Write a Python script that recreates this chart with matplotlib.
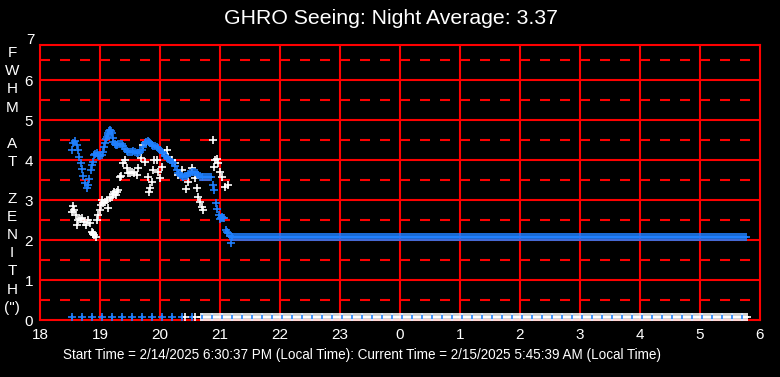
import matplotlib.pyplot as plt
import numpy as np

plt.rcParams['font.family'] = ['Liberation Sans', 'DejaVu Sans']
plt.rcParams['lines.scale_dashes'] = False

# seeing (FWHM at zenith, arcsec) vs local time in hours (24+ = after midnight)
blue_t = [18.528, 18.555, 18.583, 18.612, 18.638, 18.655, 18.678, 18.695, 18.722, 18.75,
          18.778, 18.795, 18.822, 18.845, 18.862, 18.878, 18.9, 18.92, 18.945, 18.965,
          18.988, 19.008, 19.028, 19.045, 19.065, 19.083, 19.1, 19.112, 19.125, 19.138,
          19.152, 19.167, 19.18, 19.195, 19.21, 19.222, 19.245, 19.267, 19.285, 19.305,
          19.33, 19.362, 19.39, 19.417, 19.445, 19.472, 19.5, 19.528, 19.555, 19.583,
          19.61, 19.638, 19.665, 19.695, 19.72, 19.75, 19.775, 19.795, 19.815, 19.833,
          19.86, 19.888, 19.915, 19.945, 19.97, 20.0, 20.028, 20.055, 20.085, 20.112,
          20.14, 20.167, 20.195, 20.222, 20.25, 20.278, 20.305, 20.333, 20.36, 20.388,
          20.415, 20.445, 20.472, 20.5, 20.528, 20.555, 20.583, 20.612, 20.64, 20.667,
          20.695, 20.722, 20.75, 20.778, 20.81, 20.85, 20.888, 20.905, 20.928, 20.955,
          20.98, 21.0, 21.017, 21.033, 21.05, 21.067, 21.095, 21.118, 21.138, 21.16,
          21.178, 21.195]
blue_v = [4.25, 4.42, 4.48, 4.37, 4.25, 4.08, 3.92, 3.77, 3.60, 3.42,
          3.29, 3.37, 3.52, 3.75, 3.87, 3.96, 4.12, 4.16, 4.17, 4.13,
          4.10, 4.10, 4.12, 4.21, 4.32, 4.42, 4.52, 4.58, 4.63, 4.68,
          4.72, 4.75, 4.72, 4.67, 4.56, 4.46, 4.40, 4.37, 4.38, 4.40,
          4.41, 4.40, 4.34, 4.27, 4.22, 4.19, 4.20, 4.21, 4.22, 4.21,
          4.18, 4.17, 4.20, 4.25, 4.33, 4.42, 4.46, 4.48, 4.45, 4.42,
          4.38, 4.35, 4.34, 4.33, 4.29, 4.25, 4.21, 4.17, 4.10, 4.04,
          4.02, 4.00, 3.96, 3.92, 3.84, 3.75, 3.68, 3.62, 3.59, 3.58,
          3.59, 3.60, 3.64, 3.67, 3.69, 3.70, 3.69, 3.68, 3.63, 3.58,
          3.57, 3.57, 3.58, 3.57, 3.57, 3.57, 3.37, 3.25, 2.92, 2.77,
          2.62, 2.52, 2.55, 2.57, 2.55, 2.54, 2.25, 2.19, 2.17, 2.10,
          1.92, 2.08]

# flat part of the blue series, sampled every 2 minutes
flat_t = np.arange(21.2, 29.78, 1 / 30)
flat_v = [2.07] * len(flat_t)

white_t = [18.528, 18.545, 18.567, 18.6, 18.622, 18.638, 18.667, 18.695, 18.733, 18.767,
           18.805, 18.833, 18.862, 18.875, 18.888, 18.905, 18.928, 18.955, 18.972, 19.0,
           19.012, 19.028, 19.055, 19.083, 19.112, 19.138, 19.167, 19.195, 19.222, 19.24,
           19.267, 19.285, 19.305, 19.333, 19.35, 19.388, 19.417, 19.445, 19.472, 19.5,
           19.528, 19.572, 19.612, 19.638, 19.683, 19.722, 19.75, 19.795, 19.817, 19.833,
           19.862, 19.888, 19.905, 19.945, 19.972, 20.0, 20.028, 20.072, 20.112, 20.138,
           20.195, 20.25, 20.305, 20.362, 20.433, 20.472, 20.528, 20.583, 20.612, 20.638,
           20.667, 20.695, 20.722, 20.888, 20.905, 20.917, 20.945, 20.972, 21.0, 21.028,
           21.083, 21.138]
white_v = [2.71, 2.85, 2.75, 2.62, 2.37, 2.50, 2.52, 2.54, 2.46, 2.37,
           2.50, 2.42, 2.21, 2.18, 2.15, 2.12, 2.08, 2.50, 2.62, 2.75,
           2.87, 3.00, 2.92, 2.96, 3.00, 2.79, 3.04, 3.08, 3.15, 3.20,
           3.12, 3.20, 3.25, 3.58, 3.60, 3.92, 4.00, 3.79, 3.67, 3.67,
           3.71, 3.67, 3.62, 3.79, 4.04, 4.37, 3.96, 3.58, 3.21, 3.29,
           3.46, 3.75, 4.00, 4.00, 3.71, 3.54, 3.83, 4.17, 4.25, 4.08,
           4.00, 3.92, 3.62, 3.75, 3.27, 3.46, 3.79, 3.54, 3.29, 3.07,
           2.96, 2.83, 2.75, 4.50, 3.83, 4.00, 4.02, 3.92, 3.71, 3.58,
           3.33, 3.37]

# zero readings at the bottom of the chart
zero_blue_t = np.arange(18.528, 29.76, 1 / 6)
zero_white_t = [20.42, 20.58] + list(np.arange(20.68, 29.79, 1 / 30))
zero_level = 0.07

hours = list(range(18, 31))
hour_labels = [str(h % 24) for h in hours]
y_ticks = [0, 1, 2, 3, 4, 5, 6]

title = "GHRO Seeing: Night Average: 3.37"
footer = ("Start Time = 2/14/2025 6:30:37 PM (Local Time): "
          "Current Time = 2/15/2025 5:45:39 AM (Local Time)")
ylabel_letters = ['F', 'W', 'H', 'M', '', 'A', 'T', '', 'Z', 'E', 'N', 'I', 'T', 'H', '(")']

BLUE = '#2080ff'
RED = '#ff0000'

fig = plt.figure(figsize=(7.8, 3.77), dpi=100, facecolor='black')
ax = fig.add_axes([40 / 780, 57 / 377, 720 / 780, 275 / 377], facecolor='black')
ax.set_xlim(18, 30)
ax.set_ylim(0, 6.875)

# grid: solid at whole units, dashed at halves
for y in np.arange(0.5, 7, 1.0):
    ax.axhline(y, color=RED, lw=1.5, ls=(0, (7.2, 7.2)), zorder=1)
for y in range(1, 7):
    ax.axhline(y, color=RED, lw=1.5, zorder=1)
for h in hours[1:-1]:
    ax.axvline(h, color=RED, lw=1.5, zorder=1)
for s in ax.spines.values():
    s.set_color(RED)
    s.set_linewidth(1.5)

kw = dict(ls='none', marker='+', ms=6, mew=1.2, zorder=3, clip_on=False)
zero_blue_v = [zero_level] * len(zero_blue_t)
ax.plot(zero_blue_t, zero_blue_v, color=BLUE, **kw)
ax.plot(zero_white_t, [zero_level] * len(zero_white_t), color='white', **kw)
# blue centres peeking through the white band
ax.plot(zero_blue_t, zero_blue_v, color=BLUE, ls='none', marker='|',
        ms=3, mew=1.2, zorder=4, clip_on=False)
ax.plot(white_t, white_v, color='white', **kw)
ax.plot(blue_t, blue_v, color=BLUE, **kw)
ax.plot(flat_t, flat_v, color=BLUE, **kw)

ax.set_xticks(hours)
ax.set_xticklabels(hour_labels)
ax.set_yticks(y_ticks)
ax.tick_params(length=0, colors='white', labelsize=11)
ax.tick_params(axis='x', pad=6)
ax.tick_params(axis='y', pad=5)
ax.text(-0.007, 7, '7', transform=ax.get_yaxis_transform(), ha='right', va='center',
        color='white', fontsize=11, clip_on=False)

fig.text(391 / 780, 1 - 19 / 377, title, ha='center', va='center', color='white', fontsize=15.3)
fig.text(362 / 780, 1 - 355 / 377, footer, ha='center', va='center', color='white', fontsize=9.75)
for i, letter in enumerate(ylabel_letters):
    fig.text(12 / 780, 1 - (53 + 18.2 * i) / 377, letter, ha='center', va='center',
             color='white', fontsize=11)

fig.savefig('out.png', dpi=100, facecolor='black')
